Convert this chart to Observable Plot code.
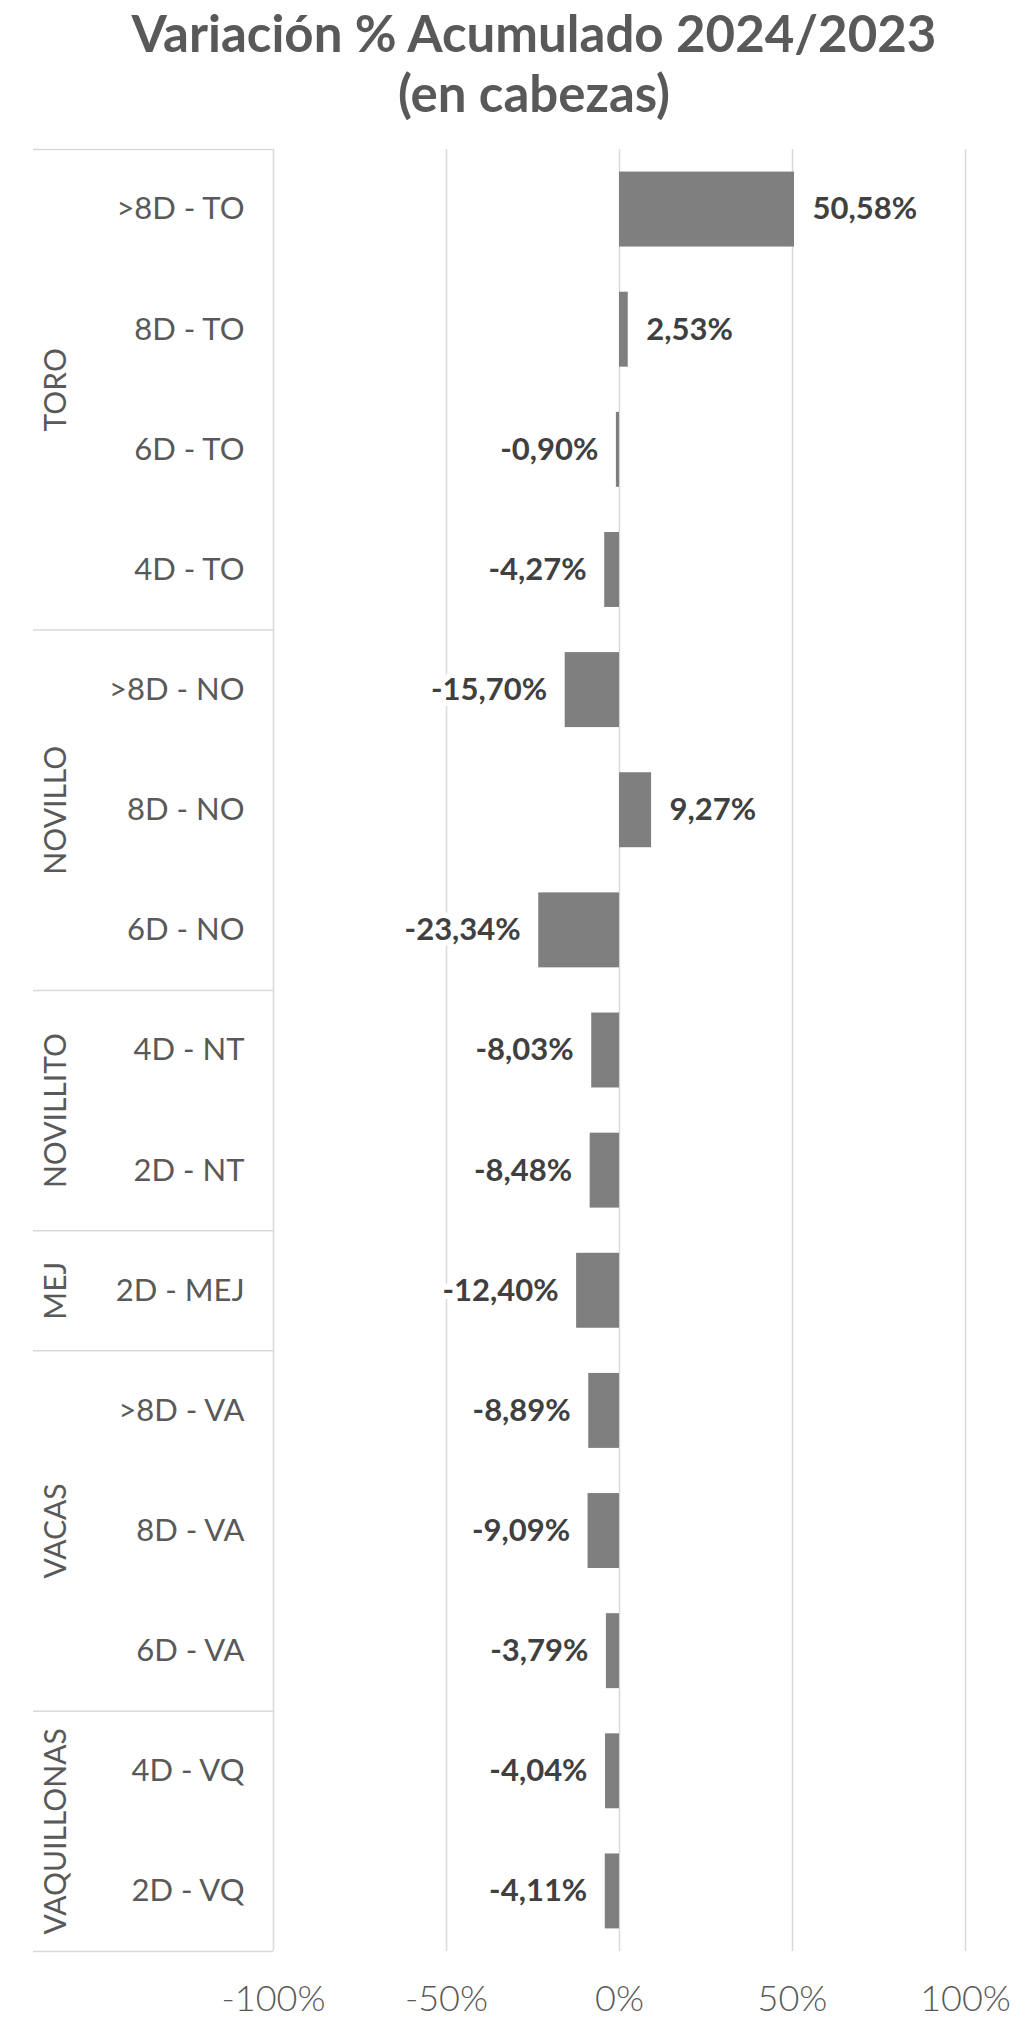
<!DOCTYPE html>
<html>
<head>
<meta charset="utf-8">
<script src="https://cdn.jsdelivr.net/npm/d3@7"></script>
<script src="https://cdn.jsdelivr.net/npm/@observablehq/plot@0.6"></script>
<style>
  html, body { margin: 0; padding: 0; background: #fff; }
  #title {
    width: 1032px; height: 130px; box-sizing: border-box;
    padding-top: 3px; padding-left: 36px;
    text-align: center; font-family: Lato, "Noto Sans", sans-serif;
    font-weight: 700; font-size: 51px; line-height: 60px; color: #595959;
  }
  #chart svg { display: block; }
</style>
</head>
<body>
<div id="title">Variación % Acumulado 2024/2023<br>(en cabezas)</div>
<div id="chart"></div>
<script>
const categories = [">8D - TO", "8D - TO", "6D - TO", "4D - TO",
  ">8D - NO", "8D - NO", "6D - NO",
  "4D - NT", "2D - NT",
  "2D - MEJ",
  ">8D - VA", "8D - VA", "6D - VA",
  "4D - VQ", "2D - VQ"];
const groupNames = ["TORO", "NOVILLO", "NOVILLITO", "MEJ", "VACAS", "VAQUILLONAS"];
const groupSizes = [4, 3, 2, 1, 3, 2];
const values = [50.58, 2.53, -0.90, -4.27, -15.70, 9.27, -23.34, -8.03, -8.48, -12.40, -8.89, -9.09, -3.79, -4.04, -4.11];
const xTicks = [-100, -50, 0, 50, 100];

const rows = categories.map((c, i) => ({cat: c, i, value: values[i]}));
let start = 0;
const groups = groupNames.map((g, k) => {
  const o = {name: g, first: start, last: start + groupSizes[k] - 1};
  start += groupSizes[k];
  return o;
});
const boundaries = [-0.5, ...groups.map(g => g.last + 0.5)];

const fmt = v => v.toFixed(2).replace(".", ",") + "%";
const half = 0.312;
const labelStyle = {fontSize: 31, fontWeight: 700, fill: "#404040", stroke: "white", strokeWidth: 12, paintOrder: "stroke"};

const chart = Plot.plot({
  width: 1032,
  height: 1890,
  marginTop: 19,
  marginBottom: 69,
  marginLeft: 273,
  marginRight: 67,
  style: {fontFamily: "Lato, 'Noto Sans', sans-serif", color: "#595959", background: "#fff"},
  x: {domain: [-100, 100], axis: null, label: null},
  y: {domain: [categories.length - 0.5, -0.5], axis: null, label: null},
  marks: [
    Plot.ruleX(xTicks, {x: d => d, y1: -0.5, y2: categories.length - 0.5, stroke: "#d9d9d9", strokeWidth: 1.5}),
    Plot.ruleY(boundaries, {y: d => d, insetLeft: -240, insetRight: 692, stroke: "#d9d9d9", strokeWidth: 1.5}),
    Plot.rect(rows, {x1: () => 0, x2: "value", y1: d => d.i - half, y2: d => d.i + half, fill: "#7f7f7f"}),
    Plot.text(rows.filter(d => d.value >= 0), {
      x: "value", y: "i", text: d => fmt(d.value), textAnchor: "start", dx: 18, ...labelStyle
    }),
    Plot.text(rows.filter(d => d.value < 0), {
      x: "value", y: "i", text: d => fmt(d.value), textAnchor: "end", dx: -18, ...labelStyle
    }),
    Plot.text(rows, {
      y: "i", text: "cat", frameAnchor: "left", textAnchor: "end", dx: -29,
      fontSize: 31, fill: "#595959"
    }),
    Plot.text(groups, {
      y: d => (d.first + d.last) / 2, text: "name", frameAnchor: "left", dx: -217,
      rotate: -90, textAnchor: "middle", fontSize: 30, fill: "#595959"
    }),
    Plot.axisX(xTicks, {
      tickSize: 0, tickPadding: 34, fontSize: 36, fontWeight: 300, label: null,
      tickFormat: d => d + "%", fill: "#595959"
    })
  ]
});
document.getElementById("chart").appendChild(chart);
</script>
</body>
</html>
